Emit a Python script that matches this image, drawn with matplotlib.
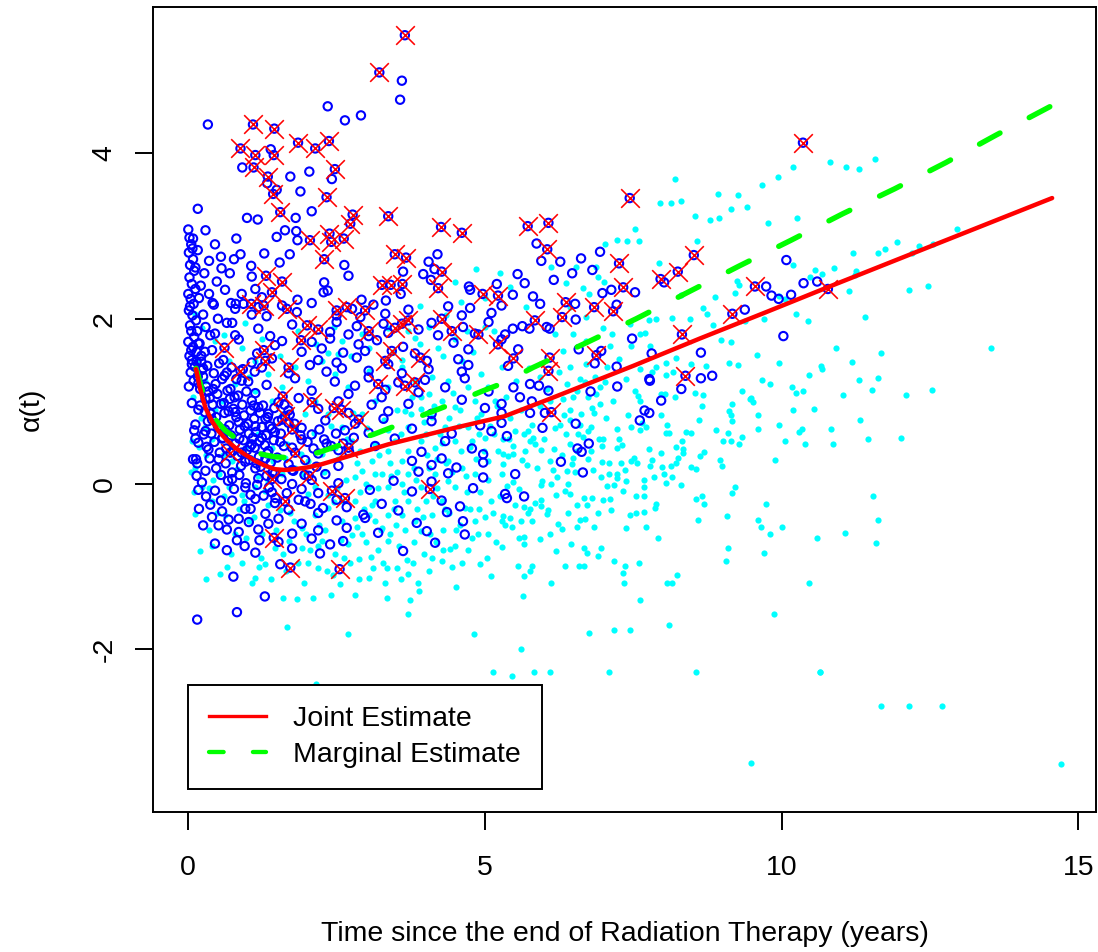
import matplotlib.pyplot as plt
from matplotlib.lines import Line2D

plt.rcParams['font.family'] = ['Liberation Sans', 'DejaVu Sans']
plt.rcParams['axes.unicode_minus'] = False

all_obs = [
    # right hand side, sparse
    (10.81, 3.90), (11.08, 3.84), (11.31, 3.81), (11.57, 3.93), (12.96, 3.09), (11.20, 2.79), (11.62, 2.80),
    (11.75, 2.84), (11.95, 2.93), (12.32, 2.88), (12.20, 2.80), (12.56, 2.90), (10.89, 2.61), (11.25, 2.58),
    (11.23, 2.53), (11.13, 2.33), (12.14, 2.35), (12.47, 2.40), (11.40, 2.02), (13.53, 1.64), (10.91, 1.64),
    (11.68, 1.58), (11.18, 1.48), (11.30, 1.26), (11.63, 1.28), (11.03, 1.08), (11.53, 1.14), (12.10, 1.08),
    (12.53, 1.14), (11.32, 0.77), (10.84, 0.66), (10.86, 0.48), (11.45, 0.55), (12.01, 0.56), (11.54, -0.15),
    (11.62, -0.43), (11.07, -0.59), (11.59, -0.71), (11.67, -2.69), (12.14, -2.69), (12.70, -2.69),
    (14.71, -3.39), (9.49, -3.38), (10.64, -2.27),
    # upper middle
    (10.19, 3.83), (9.94, 3.72), (9.67, 3.62), (8.20, 3.69), (8.93, 3.51), (9.26, 3.50), (7.95, 3.40),
    (8.13, 3.40), (8.31, 3.43), (9.15, 3.33), (9.41, 3.35), (8.54, 3.24), (8.80, 3.20), (8.94, 3.22),
    (9.77, 3.16), (10.26, 3.22), (7.53, 3.08), (7.22, 2.95), (7.39, 2.94), (7.60, 2.94), (8.58, 2.94),
    (7.02, 2.91), (7.93, 2.68), (10.20, 2.65), (10.56, 2.59), (6.12, 2.62), (6.88, 2.63), (6.53, 2.62),
    (9.25, 2.46), (9.28, 2.41), (10.48, 2.50), (10.68, 2.54), (6.91, 2.51), (6.37, 2.43), (6.65, 2.37),
    (6.76, 2.30), (7.01, 2.44), (8.88, 2.26), (9.21, 2.31), (9.95, 2.27), (10.05, 2.24), (8.31, 2.29),
    (10.24, 2.06), (10.44, 1.97), (8.68, 2.13), (8.74, 2.06), (8.16, 2.01), (8.46, 2.00), (9.70, 2.00),
    (9.38, 1.97), (7.89, 2.00), (7.69, 1.83), (7.45, 1.94), (7.76, 1.99), (8.84, 1.92), (6.48, 1.81),
    (7.14, 1.81), (7.61, 1.81), (8.98, 1.74), (9.14, 1.72), (9.12, 1.47), (9.27, 1.44), (9.59, 1.56),
    (9.95, 1.47), (10.67, 1.43), (10.68, 1.39), (10.47, 1.32), (10.17, 1.17), (10.24, 1.10), (10.36, 1.12),
    (9.67, 1.26), (9.81, 1.21), (9.49, 1.04), (8.68, 1.08), (8.48, 1.45), (8.73, 1.43), (8.22, 1.53),
    (8.06, 1.47), (8.17, 1.35), (8.06, 1.32), (8.54, 1.10), (8.03, 1.09), (7.82, 1.35), (7.61, 1.39),
    (7.53, 1.13), (7.26, 1.51), (7.46, 1.67), (7.38, 1.27), (5.43, 2.38), (5.70, 2.14), (6.43, 2.14),
    (6.18, 1.81), (6.71, 2.02), (6.99, 1.89), (7.10, 1.67), (7.78, 1.67), (7.89, 1.41), (6.68, 1.23),
    (6.94, 1.17), (6.32, 1.61), (6.43, 1.41), (6.60, 1.27), (7.05, 1.41), (6.71, 1.73),
    # lower middle
    (9.34, 1.13), (9.47, 1.03), (9.52, 0.99), (9.16, 0.97), (9.12, 0.88), (9.15, 0.84), (9.16, 0.76),
    (9.60, 0.84), (10.19, 0.90), (10.54, 0.91), (9.95, 0.71), (9.61, 0.67), (10.29, 0.63), (10.35, 0.67),
    (10.05, 0.52), (10.40, 0.48), (9.09, 0.62), (9.33, 0.57), (9.01, 0.52), (9.14, 0.52), (9.29, 0.48),
    (8.89, 0.65), (8.66, 0.94), (8.60, 0.77), (8.39, 0.63), (8.48, 0.62), (8.32, 0.52), (8.22, 0.45),
    (8.34, 0.42), (8.33, 0.38), (8.69, 0.39), (8.63, 0.34), (8.25, 0.32), (8.22, 0.26), (8.96, 0.29),
    (9.00, 0.22), (9.89, 0.29), (8.47, 0.21), (8.55, 0.18), (8.16, 0.08), (8.06, 0.01), (8.30, -0.01),
    (8.02, 0.12), (8.13, 0.22), (7.98, 0.21), (9.21, -0.03), (9.17, -0.11), (8.66, -0.15), (8.55, -0.18),
    (8.70, -0.24), (9.74, -0.24), (9.08, -0.39), (9.61, -0.43), (9.65, -0.52), (10.00, -0.52), (9.80, -0.61),
    (8.59, -0.43), (10.59, -0.65), (9.10, -0.77), (9.70, -0.84), (9.06, -0.93), (10.47, -1.20), (9.87, -1.57),
    (8.23, -1.10), (8.07, -1.20), (8.15, -1.20), (7.92, -0.65), (8.11, -1.70), (8.56, -2.28), (10.65, -2.28),
    (7.72, -0.52), (7.68, -0.34), (7.55, -0.35), (7.45, -0.38), (7.37, -0.53), (7.88, -0.24), (7.87, -0.29),
    (7.68, -0.15), (7.55, -0.15), (7.68, 0.05), (7.68, -0.03), (7.85, 0.08), (7.76, 0.42), (7.96, 0.37),
    (7.82, 0.29), (7.79, 0.22), (7.47, 0.28), (7.57, 0.26), (7.36, 0.17), (7.38, 0.04), (7.33, -0.08),
    (7.23, 0.07), (7.17, -0.01), (7.09, 0.12), (7.22, 0.12), (7.09, 0.26), (6.97, 0.27), (7.30, 0.25),
    (7.51, 0.31), (7.72, 0.69), (7.61, 0.65), (8.07, 0.71), (8.06, 0.62), (8.11, 0.62), (7.96, 0.84),
    (7.58, 1.07), (7.61, 1.00), (7.97, 1.09), (8.21, 1.05), (7.41, 0.83), (7.47, 0.69), (7.26, 0.55),
    (7.31, 0.47), (7.22, 0.44), (6.99, 0.55), (6.93, 0.54), (6.97, 0.46), (6.74, 0.64), (6.79, 0.69),
    (7.15, 1.01), (7.04, 0.80), (6.84, 0.86), (6.94, 0.97), (6.88, 1.09), (6.74, 1.05), (6.56, 0.40),
    (6.73, 0.30), (6.82, 0.17), (6.96, 0.08), (7.05, -0.02), (6.99, -0.19), (7.10, -0.18), (7.12, -0.31),
    (6.81, -0.17), (6.72, -0.25), (6.67, -0.17), (6.56, -0.25), (6.43, -0.12), (6.35, -0.08), (6.20, -0.13),
    (5.95, -0.19), (6.06, -0.31), (6.04, -0.36), (5.94, -0.27), (5.85, -0.23), (5.76, -0.30), (5.66, -0.28),
    (5.73, -0.35), (6.23, -0.48), (6.30, -0.54), (6.55, -0.52), (6.60, -0.43), (6.69, -0.42), (6.84, -0.52),
    (6.45, -0.72), (6.67, -0.77), (6.72, -0.84), (6.95, -0.77), (6.90, -0.87), (6.20, -0.81), (5.93, -0.67),
    (5.66, -0.73), (5.65, -0.64), (5.57, -0.65), (5.45, -0.52), (5.34, -0.50), (5.28, -0.76), (5.56, -0.99),
    (5.79, -0.99), (5.76, -1.05), (5.66, -1.11), (6.35, -0.99), (6.58, -0.99), (6.67, -0.99), (6.12, -1.20),
    (5.64, -1.36), (7.17, -0.93), (7.36, -0.99), (7.32, -1.08), (7.34, -1.20), (7.60, -0.95), (7.62, -1.40),
    (6.76, -1.80), (7.17, -1.77), (7.45, -1.77), (5.61, -1.99), (5.82, -2.27), (6.09, -2.28), (7.09, -2.28),
    (5.45, -2.32), (5.30, -0.39), (5.42, -0.41), (5.31, 0.24), (5.39, 0.34), (5.48, 0.36), (5.62, 0.29),
    (5.71, 0.23), (5.48, 0.02), (5.37, -0.02), (5.57, -0.06), (5.97, 0.04), (5.95, -0.01), (6.21, 0.08),
    (6.40, 0.00), (6.46, 0.24), (6.38, 0.16), (6.14, 0.17), (6.09, 0.28), (6.16, 0.42), (5.95, 0.41),
    (5.81, 0.56), (5.76, 0.52), (5.85, 0.48), (5.73, 0.64), (5.65, 0.60), (5.51, 0.64), (5.41, 0.54),
    (5.31, 0.36), (5.48, 0.46), (6.26, 0.72), (6.18, 0.68), (6.43, 0.78), (6.57, 0.60), (6.65, 0.57),
    (6.60, 0.72), (6.43, 0.48), (6.49, 0.32), (7.02, 1.23), (7.22, 0.66), (7.64, 0.74), (5.93, 0.95),
    (5.79, 0.72), (6.43, 0.90), (6.34, 0.84), (6.80, 0.92), (6.09, 1.01), (6.32, 1.03), (6.55, 1.13),
    (6.38, 1.21),
    (5.35, 1.05), (5.42, 0.80), (5.52, 1.25), (5.60, 0.90), (5.68, 0.40), (5.75, 1.40), (5.88, 0.20),
    (5.92, 1.30), (6.00, 0.55), (6.05, 1.15), (6.12, 0.00), (6.25, 1.35), (6.30, 0.35), (6.36, 0.60),
    (6.48, 1.05), (6.52, 0.15), (6.62, 0.85), (6.70, 1.45), (6.78, 0.40), (6.86, 1.30), (5.50, -0.25),
    (5.60, -0.45), (5.80, -0.45), (6.10, -0.60), (6.40, -0.35), (6.90, -0.35),
    # lower left
    (1.59, -1.38), (1.84, -1.39), (2.10, -1.38), (2.41, -1.34), (3.35, -1.38), (3.73, -1.40), (3.70, -1.57),
    (3.89, -1.30), (1.67, -1.73), (2.70, -1.81), (4.81, -1.81), (5.13, -2.28), (2.15, -2.42),
    (0.11, -0.36), (0.54, -1.09), (0.19, -0.81), (1.07, -1.20), (2.19, -1.01), (2.87, -0.91), (3.12, -1.01),
    (3.32, -1.20), (3.51, -1.01), (3.88, -1.20), (4.10, -0.89), (4.27, -0.93), (4.41, -0.79), (4.52, -1.24),
    (4.92, -0.97), (5.11, -1.11), (2.56, -1.21), (2.81, -1.34), (3.04, -1.14), (3.71, -1.09), (1.13, -1.14),
    (1.30, -0.97),
    (2.02, -0.95), (2.18, -0.75), (2.30, -0.55), (2.44, -1.10), (2.62, -0.90), (2.76, -0.62), (2.88, -1.15),
    (3.00, -0.70), (3.15, -0.45), (3.28, -0.95), (3.40, -0.60), (3.58, -1.15), (3.65, -0.55), (3.78, -0.95),
    (3.95, -0.40), (4.05, -1.05), (4.18, -0.70), (4.33, -0.30), (4.45, -1.00), (4.58, -0.50), (4.72, -0.80),
    (4.88, -0.60), (5.00, -0.40), (5.18, -0.70), (1.20, -1.00), (1.40, -1.15), (1.65, -1.05), (1.95, -1.20),
    (0.90, -0.95), (0.65, -1.00), (0.40, -0.75), (0.30, -1.15),
    # dense left cloud
    (2.36, 1.59), (2.53, 1.57), (3.04, 1.37), (3.77, 1.05), (3.93, 0.91), (4.10, 0.81), (4.33, 0.69),
    (4.78, 0.52), (5.00, 0.56), (5.22, 0.40), (3.37, 0.40), (3.09, 0.28), (2.92, 0.16), (2.81, 0.08),
    (3.15, 0.12), (3.37, -0.04), (3.48, -0.21), (3.60, -0.37), (3.82, -0.45), (3.93, -0.57), (4.10, -0.37),
    (4.27, -0.21), (4.49, -0.04), (4.66, -0.29), (4.83, -0.45), (5.06, -0.61), (5.28, -0.45), (4.83, 0.12),
    (5.06, 0.28), (5.28, 0.12), (4.38, 0.28), (4.05, 0.20), (3.71, 0.12), (3.60, 0.28), (2.81, -0.21),
    (3.04, -0.37), (3.26, -0.53), (3.37, -0.69), (2.92, -0.61), (2.59, -0.45), (2.36, -0.29), (2.14, -0.37),
    (1.91, -0.53), (1.69, -0.69), (1.91, -0.77), (2.25, -0.69), (2.47, -0.85), (2.70, -0.73), (1.46, -0.77),
    (1.24, -0.61), (1.02, -0.45), (0.79, -0.61), (0.62, -0.37), (0.40, -0.21), (0.23, -0.04), (0.12, 0.20),
    (0.06, 0.52), (0.29, 0.69), (0.45, 0.89), (0.57, 1.01), (0.79, 1.21), (1.02, 1.29), (1.13, 1.13),
    (1.41, 1.01), (1.58, 0.85), (1.80, 0.69), (1.97, 0.85), (2.14, 1.01), (2.36, 0.85), (2.59, 0.69),
    (2.76, 0.52), (2.47, 0.44), (2.25, 0.36), (2.02, 0.28), (1.80, 0.20), (1.58, 0.12), (1.35, 0.04),
    (1.13, -0.04), (0.90, -0.13), (0.68, -0.04), (0.51, 0.12), (0.74, 0.28), (0.96, 0.44), (1.18, 0.60),
    (1.41, 0.44), (1.63, 0.32), (1.91, 0.12), (2.14, -0.04), (2.36, -0.13), (2.59, -0.21), (2.81, -0.41),
    (3.15, -0.21), (3.37, -0.37), (3.71, -0.21), (3.93, -0.04), (4.16, 0.12), (4.38, 0.04), (4.61, 0.20),
    (3.04, -0.04), (3.26, 0.12), (3.48, 0.52), (3.71, 0.69), (3.93, 0.52), (4.16, 0.44), (4.49, 0.52),
    (4.72, 0.69), (4.94, 0.85), (5.17, 1.01), (4.83, 1.01), (4.49, 0.93), (4.27, 1.01), (4.05, 1.09),
    (3.82, 1.25), (3.60, 1.41), (3.37, 1.17), (3.15, 1.01), (2.92, 0.85), (2.70, 1.17), (2.47, 1.33),
    (2.25, 1.49), (2.02, 1.25), (1.80, 1.41), (1.58, 1.17), (1.35, 1.33), (1.13, 1.49), (0.90, 1.65),
    (0.68, 1.49), (0.45, 1.73), (0.23, 1.89), (0.12, 2.06), (2.59, 1.73), (2.92, 1.81), (3.37, 1.89),
    (3.82, 1.77), (4.21, 1.65), (4.61, 1.49), (4.94, 1.33), (5.28, 1.41), (4.38, 1.25), (4.72, 1.17),
    (5.06, 1.17), (4.50, 1.75), (4.80, 1.60), (4.30, 1.55), (5.00, 1.90), (4.60, 2.20), (3.90, 1.70),
    (4.10, 1.30), (3.60, 1.50), (3.20, -0.80), (3.50, -0.50), (3.80, -0.70), (4.00, -0.20), (4.30, -0.55),
    (4.50, -0.75), (4.70, -0.10), (4.90, -0.30), (5.10, -0.20), (3.10, -0.25), (2.90, -0.10), (3.60, 0.00),
    (4.20, 0.30), (4.60, 0.40), (4.00, 0.60), (3.40, 0.25), (3.70, 0.40), (4.85, 0.30), (5.15, 0.60),
    (4.40, 0.80),
    (0.35, -0.55), (0.48, -0.35), (0.60, -0.15), (0.72, -0.85), (0.85, -0.30), (0.98, -0.65), (1.10, -0.40),
    (1.22, -0.90), (1.34, -0.25), (1.48, -0.55), (1.60, -0.85), (1.72, -0.35), (1.85, -0.95), (1.98, -0.60),
    (0.42, 0.05), (0.58, 0.35), (0.70, 0.50), (0.82, 0.18), (0.94, -0.20), (1.06, 0.32), (1.18, 0.10),
    (1.30, -0.08), (1.42, 0.28), (1.54, -0.32), (1.66, 0.48), (1.78, -0.45), (1.90, 0.36), (2.02, -0.12),
    (2.05, -0.80), (2.12, 0.62), (2.20, -0.50), (2.28, 0.15), (2.33, -1.05), (2.40, 0.70), (2.45, -0.22),
    (2.52, 0.30), (2.58, -0.68), (2.66, 0.05), (2.72, -0.95), (2.78, 0.86), (2.85, -0.52), (2.90, 0.40),
    (2.97, -0.30), (3.02, 0.68), (3.08, -0.88), (3.14, 0.48), (3.20, -0.05), (3.24, -0.55), (3.30, 0.78),
    (3.35, -1.02), (3.42, 0.10), (3.46, -0.30), (3.52, 0.90), (3.55, -0.75), (3.58, 0.60), (3.64, -0.10),
    (3.68, -0.92), (3.75, 0.85), (3.80, 0.20), (3.86, -0.30), (3.92, 1.05), (3.97, -0.85), (4.02, 0.35),
    (4.08, -0.60), (4.14, 0.95), (4.19, -0.05), (4.24, 0.60), (4.29, -0.80), (4.35, 0.25), (4.40, -0.35),
    (4.46, 1.10), (4.52, -0.55), (4.56, 0.70), (4.62, -0.95), (4.68, 0.10), (4.74, 0.45), (4.79, -0.65),
    (4.86, 0.80), (4.92, -0.10), (4.98, 0.40), (5.04, -0.90), (5.09, 0.70), (5.14, -0.35), (5.20, 0.95),
    (5.25, -0.15), (5.30, 0.55), (0.60, 1.80), (0.95, 1.95), (1.25, 1.75), (1.55, 1.55), (1.85, 1.85),
    (2.15, 1.70), (2.45, 1.90), (2.75, 1.55), (3.05, 1.65), (3.45, 1.60), (3.70, 1.85), (4.05, 1.90),
    (4.35, 2.05), (4.70, 1.85), (5.15, 1.85), (5.00, 2.25), (4.50, 2.45), (3.90, 2.15), (5.25, 2.55),
    (4.85, 2.60), (0.05, 0.15), (0.10, -0.10), (0.18, 0.45), (0.22, 0.80), (0.30, 0.35), (0.08, 1.05),
    (0.15, 1.50), (0.28, 1.25), (0.35, -0.05), (0.40, 0.55),
    (2.50, -0.05), (2.68, 0.55), (2.85, 0.25), (3.00, 0.00), (3.22, 0.35), (3.36, 0.65), (3.52, 0.15),
    (3.66, 0.88), (3.84, 0.05), (3.98, 0.75), (4.12, -0.15), (4.28, 0.50), (4.44, 0.15), (4.58, 0.90),
    (4.75, -0.30), (4.90, 0.60), (5.05, 0.05), (5.22, 0.80),
]

# observations drawn as blue open circles
subset_obs = [
    (0.33, 4.35), (2.35, 4.57), (2.64, 4.40), (2.91, 4.46), (3.60, 4.88), (3.57, 4.65), (1.39, 4.05),
    (0.91, 3.83), (1.72, 3.72), (2.04, 3.78), (2.42, 3.69), (1.33, 3.64), (1.49, 3.56), (1.89, 3.54),
    (0.16, 3.33), (0.99, 3.22), (1.17, 3.20), (1.81, 3.22), (2.08, 3.30), (0.00, 3.08), (0.29, 3.07),
    (0.81, 2.97), (1.63, 3.07), (1.49, 2.99), (1.82, 3.06), (1.84, 2.95), (0.08, 2.97), (0.16, 2.83),
    (0.88, 2.78), (0.77, 2.72), (1.28, 2.79), (1.71, 2.78), (1.54, 2.68), (0.56, 2.61), (1.06, 2.64),
    (1.07, 2.51), (2.63, 2.65), (2.70, 2.52), (4.20, 2.78), (4.05, 2.69), (4.15, 2.60), (3.96, 2.54),
    (3.62, 2.57), (4.09, 2.47), (3.58, 2.30), (3.33, 2.22), (4.73, 2.39), (4.75, 2.35), (5.20, 2.42),
    (2.29, 2.44), (2.28, 2.32), (2.35, 2.34), (1.13, 2.36), (1.24, 2.26), (1.84, 2.23), (0.41, 2.19),
    (0.72, 2.19), (0.80, 2.18), (2.92, 2.23),
    (0.43, 2.17), (0.79, 2.12), (0.93, 2.18), (1.07, 2.05), (1.18, 2.14), (1.32, 2.03), (1.58, 2.16),
    (1.83, 2.08), (2.08, 2.19), (2.50, 2.04), (2.76, 2.12), (2.90, 2.02), (3.12, 2.17), (3.32, 2.06),
    (3.71, 2.11), (4.38, 2.15), (4.61, 2.04), (4.75, 2.13), (5.11, 2.07), (5.28, 2.16),
    (0.29, 1.90), (0.45, 1.82), (0.74, 1.95), (0.79, 1.80), (1.18, 1.88), (1.38, 1.79), (1.75, 1.93),
    (2.39, 1.84), (2.50, 1.96), (2.70, 1.81), (2.84, 1.91), (3.04, 1.79), (3.29, 1.94), (3.37, 1.83),
    (3.88, 1.87), (4.10, 1.95), (4.21, 1.80), (4.63, 1.90), (4.83, 1.82), (5.06, 1.96),
    (0.17, 1.70), (0.40, 1.62), (0.85, 1.75), (1.16, 1.58), (1.46, 1.68), (1.58, 1.73), (1.91, 1.60),
    (2.08, 1.72), (2.25, 1.64), (2.39, 1.76), (2.61, 1.59), (2.87, 1.69), (2.98, 1.61), (3.18, 1.74),
    (3.62, 1.66), (3.82, 1.58), (4.47, 1.71), (4.72, 1.63), (5.28, 1.75),
    (0.06, 1.45), (0.23, 1.38), (0.59, 1.50), (0.65, 1.35), (1.07, 1.47), (1.24, 1.41), (1.41, 1.52),
    (1.69, 1.34), (2.05, 1.44), (2.19, 1.50), (2.33, 1.36), (2.50, 1.47), (2.59, 1.40), (2.84, 1.53),
    (3.04, 1.37), (3.37, 1.45), (3.60, 1.34), (4.02, 1.49), (4.05, 1.39), (4.55, 1.51), (4.61, 1.36),
    (4.72, 1.44),
    (0.17, 1.22), (0.34, 1.12), (0.57, 1.27), (0.71, 1.15), (0.90, 1.25), (1.13, 1.10), (1.32, 1.20),
    (1.80, 1.28), (2.08, 1.13), (2.47, 1.24), (2.70, 1.09), (2.81, 1.19), (3.04, 1.29), (3.32, 1.14),
    (3.54, 1.23), (3.88, 1.11), (3.99, 1.26), (4.33, 1.17), (4.66, 1.28), (5.06, 1.12),
    (0.06, 0.98), (0.17, 0.90), (0.29, 1.03), (0.79, 0.87), (1.07, 1.01), (1.18, 0.93), (1.35, 0.85),
    (1.52, 0.99), (1.69, 0.89), (1.86, 1.04), (2.19, 0.91), (2.53, 1.00), (2.70, 0.86), (3.09, 0.96),
    (3.26, 1.05), (3.37, 0.88), (3.71, 0.97), (4.10, 0.85), (4.61, 1.02), (5.00, 0.92), (5.28, 0.86),
    (0.12, 0.72), (0.29, 0.64), (0.40, 0.78), (0.62, 0.66), (0.85, 0.75), (1.02, 0.61), (1.13, 0.70),
    (1.30, 0.79), (1.46, 0.63), (1.69, 0.74), (1.91, 0.68), (2.08, 0.60), (2.31, 0.77), (2.64, 0.65),
    (2.81, 0.73), (3.04, 0.62), (3.29, 0.79), (3.77, 0.67), (4.10, 0.76), (4.44, 0.61), (4.92, 0.71),
    (5.11, 0.64),
    (0.17, 0.50), (0.34, 0.42), (0.57, 0.55), (0.90, 0.38), (1.07, 0.48), (1.24, 0.56), (1.35, 0.40),
    (1.55, 0.51), (1.75, 0.44), (1.91, 0.54), (2.19, 0.37), (2.33, 0.49), (2.53, 0.41), (3.15, 0.46),
    (3.48, 0.55), (3.93, 0.39), (4.33, 0.52), (4.78, 0.43), (4.97, 0.36),
    (0.15, 0.25), (0.29, 0.16), (0.51, 0.30), (0.74, 0.14), (0.96, 0.27), (1.13, 0.19), (1.30, 0.31),
    (1.46, 0.13), (1.69, 0.24), (1.75, 0.17), (1.97, 0.29), (2.31, 0.12), (2.53, 0.22), (3.77, 0.28),
    (3.88, 0.15), (4.10, 0.23), (4.27, 0.31), (4.38, 0.13), (4.52, 0.20), (4.97, 0.26),
    (0.23, 0.02), (0.45, -0.08), (0.74, 0.06), (0.96, -0.04), (1.18, 0.07), (1.41, -0.10), (1.75, 0.00),
    (1.91, -0.06), (2.08, 0.05), (2.19, -0.11), (2.53, 0.01), (3.06, -0.07), (3.46, 0.04), (3.77, -0.09),
    (4.10, 0.03), (4.80, -0.05), (4.97, 0.08),
    (0.37, -0.25), (0.57, -0.33), (0.74, -0.20), (0.96, -0.30), (1.13, -0.18), (1.30, -0.36), (1.46, -0.23),
    (1.69, -0.31), (1.97, -0.21), (2.19, -0.35), (2.50, -0.19), (2.67, -0.28), (2.95, -0.37), (3.26, -0.24),
    (3.54, -0.32), (4.27, -0.20), (4.36, -0.34), (4.58, -0.27),
    (0.51, -0.50), (0.68, -0.43), (0.85, -0.58), (1.02, -0.46), (1.18, -0.55), (1.52, -0.42), (1.75, -0.60),
    (1.91, -0.48), (2.19, -0.56), (2.50, -0.44), (2.67, -0.53), (2.98, -0.41), (3.20, -0.59), (3.85, -0.47),
    (4.02, -0.57), (4.63, -0.45), (4.66, -0.61),
    (0.45, -0.72), (0.65, -0.80), (0.82, -0.68), (1.13, -0.83), (1.52, -0.70), (1.75, -0.78), (2.08, -0.66),
    (2.22, -0.84), (2.39, -0.73), (2.61, -0.69), (3.62, -0.81), (4.16, -0.71),
    (0.76, -1.12), (1.55, -0.97), (1.29, -1.36), (0.15, -1.64), (0.82, -1.55), (0.17, -0.07), (0.13, 0.30),
    # crowded strip near t = 0
    (0.02, 2.98), (0.05, 2.90), (0.01, 2.80), (0.08, 2.72), (0.03, 2.65), (0.10, 2.58), (0.02, 2.50),
    (0.06, 2.42), (0.12, 2.36), (0.00, 2.30), (0.04, 2.24), (0.09, 2.18), (0.01, 2.10), (0.07, 2.04),
    (0.13, 1.98), (0.03, 1.92), (0.05, 1.85), (0.10, 1.78), (0.00, 1.72), (0.08, 1.66), (0.14, 1.60),
    (0.02, 1.55), (0.06, 1.50), (0.11, 1.42), (0.04, 1.35), (0.16, 1.30), (0.09, 1.25), (0.01, 1.18),
    (0.20, 1.15), (0.05, 1.62), (0.15, 1.85), (0.18, 2.25), (0.12, 2.62), (0.07, 2.85), (0.14, 1.48),
    (0.19, 1.70), (0.22, 1.55), (0.25, 1.40), (0.03, 2.15), (0.10, 0.65), (0.12, 0.55), (0.08, 0.30),
    (0.14, 0.10), (0.21, 2.40), (0.27, 2.55), (0.35, 2.30), (0.48, 2.45), (0.62, 2.35), (0.55, 2.75),
    (0.25, 1.30), (0.30, 1.18), (0.36, 1.04), (0.41, 0.96), (0.46, 1.21), (0.49, 1.09), (0.55, 0.97),
    (0.61, 0.86), (0.66, 1.13), (0.70, 1.03), (0.76, 0.91), (0.81, 0.81), (0.84, 1.07), (0.91, 0.96),
    (0.94, 0.83), (1.01, 0.73), (1.05, 0.89), (1.11, 0.79), (1.14, 0.63), (1.21, 0.86), (1.24, 0.69),
    (1.31, 0.59), (1.34, 0.81), (1.41, 0.67), (1.44, 0.53), (1.51, 0.76), (1.56, 0.61), (1.61, 0.46),
    (0.28, 0.87), (0.33, 0.76), (0.39, 0.61), (0.44, 0.51), (0.47, 0.81), (0.54, 0.67), (0.58, 0.56),
    (0.64, 0.43), (0.69, 0.71), (0.72, 0.59), (0.79, 0.49), (0.83, 0.34), (0.87, 0.66), (0.93, 0.53),
    (0.99, 0.41), (1.03, 0.29), (1.09, 0.56), (1.12, 0.44), (1.19, 0.33), (1.22, 0.21), (1.29, 0.47),
    (1.33, 0.37), (1.39, 0.26), (1.42, 0.14), (0.22, 1.48), (0.32, 1.43), (0.43, 1.34), (0.52, 1.46),
    (0.61, 1.31), (0.73, 1.41), (0.81, 1.27), (0.92, 1.39), (1.01, 1.24), (1.12, 1.36), (0.36, 0.31),
    (0.47, 0.19), (0.55, 0.11), (0.67, 0.04), (0.77, -0.06), (0.86, 0.11), (0.97, 0.01), (1.05, -0.13),
    (1.16, -0.01), (1.27, -0.14), (1.36, -0.04), (1.47, -0.17), (1.57, 0.06), (1.66, -0.11), (1.77, 0.16),
    (1.86, -0.19), (1.96, 0.11), (2.06, -0.24), (2.16, 0.21), (2.27, -0.29), (1.62, 0.96), (1.71, 0.84),
    (1.79, 0.73), (1.89, 0.59), (2.01, 0.51), (2.11, 0.43), (2.21, 0.66), (2.29, 0.54), (2.41, 0.46),
    (2.49, 0.61), (2.61, 0.49), (2.71, 0.39), (2.79, 0.56),
    (0.20, 0.95), (0.26, 0.60), (0.31, 0.45), (0.38, 0.85), (0.42, 1.15), (0.50, 0.70), (0.53, 0.38),
    (0.60, 0.98), (0.63, 0.25), (0.68, 0.88), (0.75, 0.40), (0.78, 1.05), (0.86, 0.55), (0.89, 0.22),
    (0.95, 0.70), (0.98, 1.12), (1.04, 0.45), (1.10, 0.95), (1.15, 0.25), (1.20, 0.52), (1.26, 0.95),
    (1.32, 0.10), (1.37, 0.70), (1.45, 0.92), (1.50, 0.32), (1.58, 0.78), (0.30, -0.15), (0.40, -0.40),
    (0.55, -0.20), (0.65, -0.55), (0.85, -0.42), (0.95, -0.75), (1.05, -0.30), (1.20, -0.68), (1.35, -0.48),
    (0.18, -0.30), (0.25, -0.50), (0.28, 1.60), (0.37, 1.80), (0.50, 2.00), (0.65, 1.95), (0.90, 2.30),
    (0.70, 2.55), (0.35, 2.70), (0.45, 2.90), (0.25, 2.05),
    # right of t = 5
    (5.87, 2.91), (5.95, 2.70), (6.27, 2.69), (6.62, 2.73), (6.94, 2.81), (6.47, 2.55), (6.81, 2.59),
    (5.55, 2.54), (5.67, 2.43), (6.16, 2.47), (5.47, 2.29), (5.81, 2.27), (5.93, 2.18), (6.52, 2.18),
    (6.98, 2.31), (7.13, 2.35), (7.53, 2.32), (7.22, 2.17), (6.53, 1.99), (8.02, 2.44), (9.74, 2.39),
    (9.83, 2.28), (9.95, 2.24), (10.16, 2.29), (10.37, 2.43), (10.60, 2.45), (10.08, 2.71), (9.38, 2.11),
    (10.03, 1.79), (5.47, 1.88), (5.63, 1.91), (5.75, 1.88), (6.04, 1.90), (6.09, 1.88), (5.34, 1.81),
    (5.56, 1.63), (5.39, 1.43), (6.58, 1.63), (6.85, 1.46), (6.96, 1.61), (7.22, 1.42), (7.48, 1.76),
    (7.81, 1.58), (7.77, 1.27), (8.64, 1.59), (8.64, 1.28), (8.83, 1.31),
    (5.76, 1.21), (5.91, 1.19), (6.07, 1.13), (5.48, 1.17), (5.59, 1.05), (5.79, 1.00), (5.76, 0.86),
    (6.01, 0.86), (5.28, 0.97), (5.28, 0.74), (5.97, 0.68), (6.53, 0.73), (6.78, 1.12), (7.23, 1.18),
    (7.78, 1.25), (8.31, 1.15), (7.97, 1.01), (7.69, 0.89), (7.77, 0.86), (7.61, 0.77), (6.75, 0.49),
    (6.56, 0.43), (6.63, 0.39), (6.28, 0.27), (6.65, 0.14), (5.51, 0.12), (5.37, 0.58), (5.34, -0.12),
    (5.37, -0.17), (5.66, -0.15),
]

# observations marked with red crosses (they also carry a blue circle)
flagged_obs = [
    (3.65, 5.43), (3.22, 4.98), (1.09, 4.35), (1.45, 4.30), (0.88, 4.06), (1.13, 3.98), (1.44, 3.98),
    (1.85, 4.13), (2.14, 4.06), (2.37, 4.15), (1.10, 3.83), (2.47, 3.81), (1.34, 3.72), (1.43, 3.51),
    (2.33, 3.47), (1.55, 3.29), (2.77, 3.26), (3.37, 3.24), (2.73, 3.15), (4.26, 3.11), (4.61, 3.04),
    (2.05, 2.95), (2.38, 3.03), (2.41, 2.93), (2.62, 2.97), (2.29, 2.72), (3.48, 2.78), (3.67, 2.74),
    (1.31, 2.52), (1.58, 2.45), (3.26, 2.41), (3.41, 2.41), (3.61, 2.42), (4.27, 2.57), (4.21, 2.37),
    (1.41, 2.32), (1.06, 2.18), (4.96, 2.30), (5.22, 2.28),
    (1.27, 2.16), (1.66, 2.12), (2.50, 2.10), (2.67, 2.14), (2.98, 2.10), (2.00, 1.92), (2.19, 1.87),
    (3.04, 1.85), (3.48, 1.89), (3.60, 1.94), (3.71, 1.98), (4.27, 2.00), (4.44, 1.85), (4.89, 1.81),
    (5.22, 1.69), (1.90, 1.74), (0.61, 1.65), (1.27, 1.62), (1.69, 1.41), (0.88, 1.37), (1.30, 1.49),
    (3.43, 1.61), (3.32, 1.49), (3.91, 1.53), (3.20, 1.21), (3.65, 1.19), (3.82, 1.23), (1.59, 1.06),
    (2.08, 0.99), (2.45, 0.92), (2.58, 0.90), (1.63, 0.82), (2.87, 0.78), (1.75, 0.66), (0.71, 0.38),
    (1.80, 0.38), (2.70, 0.44), (2.03, 0.10), (1.41, 0.06), (2.42, -0.08), (2.64, -0.17), (1.63, -0.21),
    (4.07, -0.06), (1.44, -0.65), (1.72, -1.01), (2.55, -1.03),
    (10.36, 4.13), (7.44, 3.46), (5.72, 3.12), (6.07, 3.16), (6.05, 2.84), (7.26, 2.67), (8.52, 2.77),
    (8.25, 2.57), (7.96, 2.48), (7.33, 2.38), (6.36, 2.20), (6.84, 2.14), (7.16, 2.09), (6.30, 2.02),
    (5.84, 1.98), (9.55, 2.39), (10.78, 2.36), (9.17, 2.06), (8.32, 1.81), (5.48, 1.52), (6.09, 1.53),
    (6.07, 1.37), (6.88, 1.56), (8.38, 1.31), (6.12, 0.87),
]

# fitted curves
joint_x = [0.13, 0.20, 0.29, 0.40, 0.51, 0.65, 0.79, 0.95, 1.13, 1.30, 1.46, 1.63, 1.80, 2.00, 2.25,
           2.81, 3.37, 3.93, 4.49, 5.33, 6.09, 7.50, 8.62, 9.74, 10.81, 12.49, 14.56]
joint_y = [1.39, 1.15, 0.92, 0.76, 0.64, 0.53, 0.44, 0.36, 0.28, 0.22, 0.18, 0.17, 0.18, 0.20, 0.24,
           0.36, 0.48, 0.58, 0.68, 0.82, 1.03, 1.43, 1.76, 2.08, 2.39, 2.87, 3.46]
marg_x = [0.13, 0.25, 0.35, 0.48, 0.62, 0.79, 1.00, 1.24, 1.45, 1.66, 1.90, 2.19, 2.59, 3.12, 3.48,
          4.05, 4.41, 4.94, 5.30, 5.81, 6.71, 7.55, 8.42, 9.29, 10.16, 11.03, 11.90, 12.77, 13.61, 14.56]
marg_y = [1.40, 1.10, 0.90, 0.76, 0.65, 0.56, 0.45, 0.36, 0.33, 0.32, 0.34, 0.38, 0.48, 0.60, 0.70,
          0.86, 0.96, 1.12, 1.22, 1.41, 1.71, 2.00, 2.32, 2.64, 2.95, 3.27, 3.57, 3.89, 4.22, 4.58]

x_ticks = [0, 5, 10, 15]
y_ticks = [-2, 0, 2, 4]

cx = [p[0] for p in all_obs]
cy = [p[1] for p in all_obs]
bx = [p[0] for p in subset_obs] + [p[0] for p in flagged_obs]
by = [p[1] for p in subset_obs] + [p[1] for p in flagged_obs]
fx = [p[0] for p in flagged_obs]
fy = [p[1] for p in flagged_obs]

fig = plt.figure(figsize=(10.98, 9.52), dpi=100)
ax = fig.add_axes([0.1396, 0.1467, 0.8590, 0.8459])

ax.scatter(cx, cy, s=20, c='#00FFFF', linewidths=0, zorder=1)
ax.scatter(bx, by, s=36, facecolors='none', edgecolors='#0000FF', linewidths=1.5, zorder=2)
ax.scatter(fx, fy, s=180, marker='x', c='#FF0000', linewidths=1.15, zorder=3)
ax.plot(marg_x, marg_y, color='#00FF00', lw=3.9, dashes=(4.3, 6.1), dash_capstyle='round', zorder=4)
ax.plot(joint_x, joint_y, color='#FF0000', lw=3.2, solid_capstyle='round', zorder=5)

ax.set_xlim(-0.590, 15.307)
ax.set_ylim(-3.972, 5.771)
ax.set_xticks(x_ticks)
ax.set_yticks(y_ticks)
ax.set_yticklabels([str(v) for v in y_ticks], rotation=90, va='center')
ax.tick_params(direction='out', length=13, width=1.4, labelsize=20.5, color='black')
ax.tick_params(axis='x', pad=17.5)
ax.tick_params(axis='y', pad=12.5)
for sp in ax.spines.values():
    sp.set_linewidth(1.4)

ax.set_xlabel('Time since the end of Radiation Therapy (years)', fontsize=20.5, va='baseline')
ax.xaxis.set_label_coords(0.5, -0.1598)
ax.set_ylabel('\u03b1(t)', fontsize=20.5, va='center')
ax.yaxis.set_label_coords(-0.1289, 0.5)

h_joint = Line2D([], [], color='#FF0000', lw=2.4)
h_marg = Line2D([], [], color='#00FF00', lw=3.1, dashes=(3.4, 6.8), dash_capstyle='round')
leg = ax.legend([h_joint, h_marg], ['Joint Estimate', 'Marginal Estimate'],
                loc='lower left', bbox_to_anchor=(0.0371, 0.0289), borderaxespad=0,
                fontsize=20.5, fancybox=False, framealpha=1, edgecolor='black',
                handlelength=2.0, handletextpad=0.95, borderpad=0.74, labelspacing=0.36)
leg.get_frame().set_linewidth(1.4)

fig.savefig('out.png', dpi=100)
